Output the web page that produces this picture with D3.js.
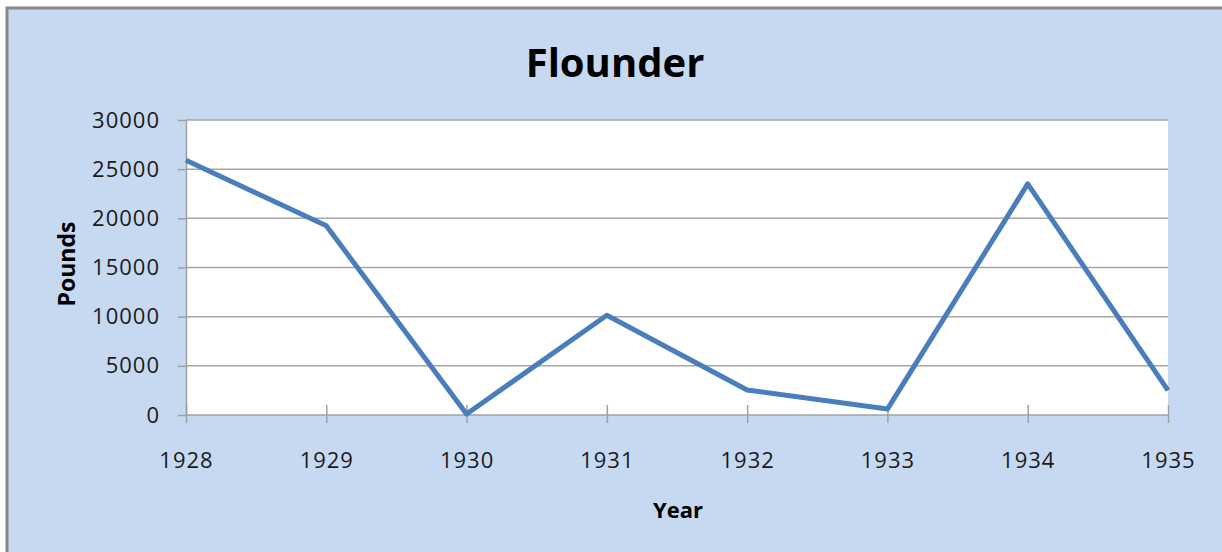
<!DOCTYPE html>
<head>
  <meta charset="utf-8">
  <style>
    body { margin: 0; background: #fff; }
    svg text { font-family: "Open Sans", "Noto Sans", sans-serif; fill: #1a1a1a; }
    svg .grid { stroke: #a6a6a6; stroke-width: 1.5px; }
    svg .axis line, svg .axis path { stroke: #a0a0a0; stroke-width: 1.5px; }
  </style>
</head>
<body>
<script src="https://d3js.org/d3.v7.min.js"></script>
<script>
  var years = ["1928", "1929", "1930", "1931", "1932", "1933", "1934", "1935"];
  var pounds = [25900, 19250, 100, 10150, 2550, 600, 23500, 2500];
  var yTicks = [0, 5000, 10000, 15000, 20000, 25000, 30000];

  var W = 1222, H = 552;
  var plot = { left: 186, top: 120, right: 1168, bottom: 415 };

  var svg = d3.select("body").append("svg")
      .attr("width", W)
      .attr("height", H);

  // chart frame
  svg.append("rect")
      .attr("x", 7).attr("y", 8)
      .attr("width", W + 10).attr("height", H + 10)
      .style("fill", "#c6d9f1")
      .style("stroke", "#888")
      .style("stroke-width", 3);

  svg.append("rect")
      .attr("x", plot.left).attr("y", plot.top)
      .attr("width", plot.right - plot.left)
      .attr("height", plot.bottom - plot.top)
      .style("fill", "#fff");

  var xScale = d3.scalePoint().domain(years).range([plot.left, plot.right]);
  var yScale = d3.scaleLinear().domain([0, 30000]).range([plot.bottom, plot.top]);

  // horizontal grid lines
  svg.append("g").selectAll("line")
      .data(yTicks.filter(function (d) { return d > 0; }))
      .enter().append("line")
      .classed("grid", true)
      .attr("x1", plot.left).attr("x2", plot.right)
      .attr("y1", function (d) { return yScale(d); })
      .attr("y2", function (d) { return yScale(d); });

  // y axis
  var yAxis = d3.axisLeft(yScale)
      .tickValues(yTicks)
      .tickFormat(d3.format("d"))
      .tickSize(8).tickSizeOuter(0).tickPadding(18);
  var ya = svg.append("g")
      .classed("axis", true)
      .attr("transform", "translate(" + plot.left + ",0)")
      .call(yAxis);
  ya.selectAll("text")
      .style("font-size", "22px")
      .style("letter-spacing", "1px");

  // x axis
  var xAxis = d3.axisBottom(xScale).tickSize(8).tickSizeOuter(0).tickPadding(29);
  var xa = svg.append("g")
      .classed("axis", true)
      .attr("transform", "translate(0," + plot.bottom + ")")
      .call(xAxis);
  xa.select(".domain").attr("d", "M" + plot.left + ",0H" + plot.right);
  xa.selectAll(".tick line").attr("y1", -10);
  xa.selectAll("text")
      .style("font-size", "22px")
      .style("letter-spacing", "1px");

  // data line
  var line = d3.line()
      .x(function (d, i) { return xScale(years[i]); })
      .y(function (d) { return yScale(d); });

  svg.append("path")
      .attr("d", line(pounds))
      .style("fill", "none")
      .style("stroke", "#4a7ebb")
      .style("stroke-width", "5px")
      .style("stroke-linejoin", "round");

  // titles
  svg.append("text")
      .attr("x", 615).attr("y", 77)
      .text("Flounder")
      .style("text-anchor", "middle")
      .style("font-size", "40px")
      .style("font-weight", "bold")
      .style("fill", "#000");

  svg.append("text")
      .attr("transform", "translate(75,264) rotate(-90)")
      .text("Pounds")
      .style("text-anchor", "middle")
      .style("font-size", "23px")
      .style("font-weight", "bold")
      .style("fill", "#000");

  svg.append("text")
      .attr("x", 678).attr("y", 518)
      .text("Year")
      .style("text-anchor", "middle")
      .style("font-size", "22px")
      .style("font-weight", "bold")
      .style("fill", "#000");
</script>
</body>
</html>
